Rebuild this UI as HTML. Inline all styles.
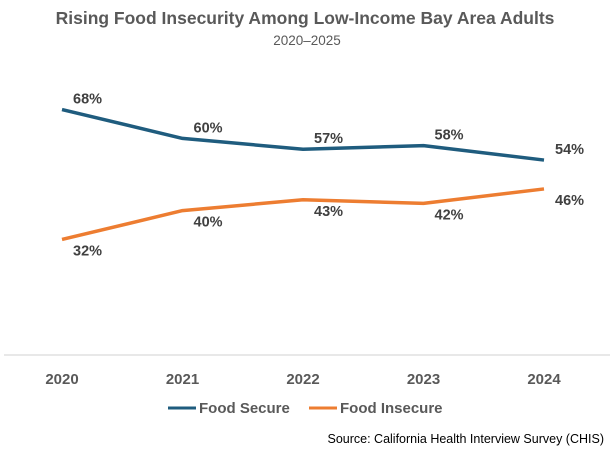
<!DOCTYPE html>
<html><head><meta charset="utf-8"><style>
body{margin:0;background:#fff;}
svg{display:block;font-family:"Liberation Sans",Arial,sans-serif;}
</style></head><body>
<svg id="chart" width="614" height="450" viewBox="0 0 614 450">
<text x="305" y="24" text-anchor="middle" font-size="17.5" font-weight="bold" fill="#595959">Rising Food Insecurity Among Low-Income Bay Area Adults</text>
<text x="307" y="45" text-anchor="middle" font-size="13.5" fill="#595959">2020–2025</text>
<line x1="4" y1="355" x2="610" y2="355" stroke="#d0d0d0" stroke-width="1"/>
<g id="xticks"></g>
<g id="series"></g>
<g>
<g><line x1="168" y1="408" x2="196" y2="408" stroke="#1F5C7E" stroke-width="3"/><text x="199" y="413" font-size="15" font-weight="bold" fill="#595959">Food Secure</text></g>
<g><line x1="309" y1="408" x2="337" y2="408" stroke="#ED7D31" stroke-width="3"/><text x="340" y="413" font-size="15" font-weight="bold" fill="#595959">Food Insecure</text></g>
</g>
<text x="604" y="443" text-anchor="end" font-size="12.5" fill="#000">Source: California Health Interview Survey (CHIS)</text>
</svg>
<script>
const years = ["2020","2021","2022","2023","2024"];
const foodSecure = [68,60,57,58,54];
const foodInsecure = [32,40,43,42,46];
const NS="http://www.w3.org/2000/svg";
function xPos(i){return 62+i*120.5;}
function yPos(v){return 355-v*3.61;}
const xt=document.getElementById('xticks');
years.forEach((y,i)=>{
  const t=document.createElementNS(NS,'text');
  t.setAttribute('x',xPos(i));t.setAttribute('y',384);
  t.setAttribute('text-anchor','middle');t.setAttribute('font-size','15');
  t.setAttribute('font-weight','bold');t.setAttribute('fill','#595959');
  t.textContent=y;
  
  
  xt.appendChild(t);
});
const sg=document.getElementById('series');
function draw(vals,color,name,dy){
  const p=document.createElementNS(NS,'polyline');
  p.setAttribute('points',vals.map((v,i)=>xPos(i)+','+yPos(v)).join(' '));
  p.setAttribute('fill','none');p.setAttribute('stroke',color);p.setAttribute('stroke-width','3.5');
  p.setAttribute('stroke-linejoin','round');
  
  
  sg.appendChild(p);
  vals.forEach((v,i)=>{
    const t=document.createElementNS(NS,'text');
    t.setAttribute('x',xPos(i)+11);t.setAttribute('y',yPos(v)+dy);
    t.setAttribute('font-size','14.5');t.setAttribute('font-weight','bold');t.setAttribute('fill','#404040');
    t.textContent=v+'%';
    
    
    sg.appendChild(t);
  });
}
draw(foodSecure,'#1F5C7E','food-secure',-6);
draw(foodInsecure,'#ED7D31','food-insecure',16);
</script>
</body></html>
